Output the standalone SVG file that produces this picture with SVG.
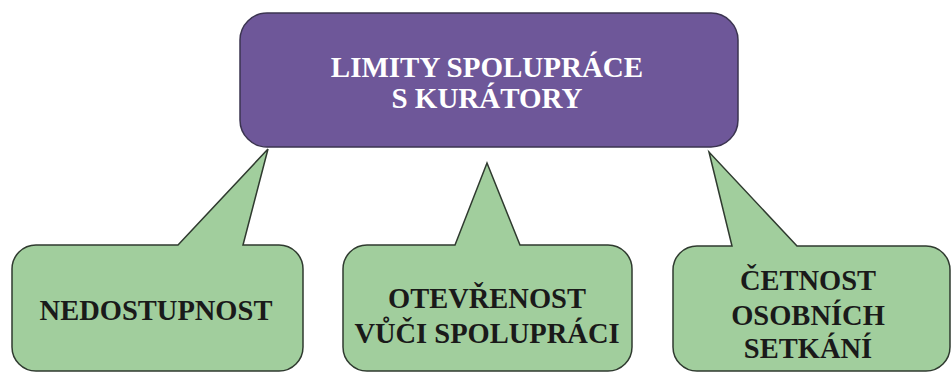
<svg xmlns="http://www.w3.org/2000/svg" width="952" height="372" viewBox="0 0 952 372">
<style>
.bg{fill:#ffffff}
.top{fill:#6E5799;stroke:#3b3450;stroke-width:1.5}
.call{fill:#A1CE9D;stroke:#2f3a2f;stroke-width:1.5;stroke-linejoin:miter}
.t{font-family:"Liberation Serif","Times New Roman",serif;font-weight:bold;font-size:28.5px;text-anchor:middle}
.tw{fill:#ffffff;font-size:29px}
.tb{fill:#1a1a1a}
</style>
<rect class="bg" x="0" y="0" width="952" height="372"/>
<g id="callouts">
<g id="node-nedostupnost">
<path class="call" d="M36,245 L178,245 L268,149 L243,245 L279,245 A24,24 0 0 1 303,269 L303,347 A24,24 0 0 1 279,371 L36,371 A24,24 0 0 1 12,347 L12,269 A24,24 0 0 1 36,245 Z"/>
<text class="t tb" x="156" y="320">NEDOSTUPNOST</text>
</g>
<g id="node-otevrenost">
<path class="call" d="M367,245 L455,245 L487,163 L520,245 L608,245 A24,24 0 0 1 632,269 L632,347 A24,24 0 0 1 608,371 L367,371 A24,24 0 0 1 343,347 L343,269 A24,24 0 0 1 367,245 Z"/>
<text class="t tb" x="487" y="308">OTEVŘENOST</text>
<text class="t tb" x="487" y="343">VŮČI SPOLUPRÁCI</text>
</g>
<g id="node-cetnost">
<path class="call" d="M697,246 L732,246 L709,152 L797,246 L926,246 A24,24 0 0 1 950,270 L950,347 A24,24 0 0 1 926,371 L697,371 A24,24 0 0 1 673,347 L673,270 A24,24 0 0 1 697,246 Z"/>
<text class="t tb" x="808" y="290">ČETNOST</text>
<text class="t tb" x="808" y="325">OSOBNÍCH</text>
<text class="t tb" x="808" y="358">SETKÁNÍ</text>
</g>
</g>
<g id="node-limity">
<rect class="top" x="240" y="13" width="498" height="134" rx="27" ry="27"/>
<text class="t tw" x="487" y="77">LIMITY SPOLUPRÁCE</text>
<text class="t tw" x="487" y="108">S KURÁTORY</text>
</g>
</svg>
